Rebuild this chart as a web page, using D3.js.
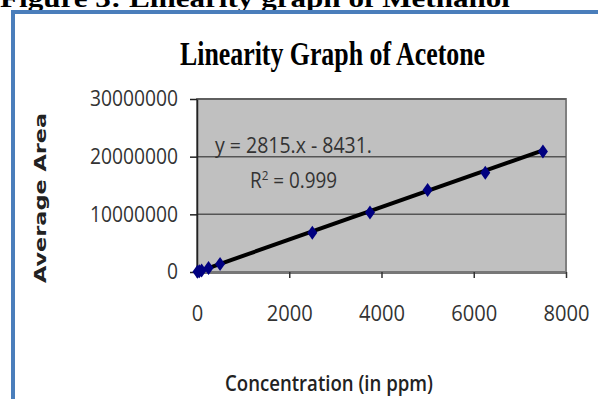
<!DOCTYPE html>
<html>
<head>
<meta charset="utf-8">
<script src="https://cdn.jsdelivr.net/npm/d3@7"></script>
<style>
  html, body { margin: 0; padding: 0; background: #fff; }
  svg { display: block; }
</style>
</head>
<body>
<svg id="chart" width="598" height="399"></svg>
<script>
// data
const concentrations = [10, 50, 100, 250, 500, 2500, 3750, 5000, 6250, 7500];
const avgAreas = [28000, 140000, 280000, 700000, 1400000, 6800000, 10300000, 14200000, 17200000, 20900000];
const xTicks = [0, 2000, 4000, 6000, 8000];
const yTicks = [0, 10000000, 20000000, 30000000];
const slope = 2815;
const intercept = -8431;

const svg = d3.select('#chart');
const m = { left: 197, right: 566, top: 99, bottom: 272 };

const x = d3.scaleLinear().domain([0, 8000]).range([m.left, m.right]);
const y = d3.scaleLinear().domain([0, 30000000]).range([m.bottom, m.top]);

// caption, cut off at the top edge as in the source
svg.append('text')
  .attr('x', 0).attr('y', 7)
  .attr('textLength', 510).attr('lengthAdjust', 'spacingAndGlyphs')
  .style('font-family', 'Liberation Serif').style('font-weight', 'bold').style('font-size', '25px')
  .text('Figure 3: Linearity graph of Methanol');

// blue frame
svg.append('line').attr('x1', 11).attr('x2', 598).attr('y1', 12).attr('y2', 12)
  .attr('stroke', '#4a7ebb').attr('stroke-width', 4);
svg.append('line').attr('x1', 13).attr('x2', 13).attr('y1', 10).attr('y2', 399)
  .attr('stroke', '#4a7ebb').attr('stroke-width', 4);

// title
svg.append('text')
  .attr('x', 180).attr('y', 65)
  .attr('textLength', 305).attr('lengthAdjust', 'spacingAndGlyphs')
  .style('font-family', 'Liberation Serif').style('font-weight', 'bold').style('font-size', '33px')
  .text('Linearity Graph of Acetone');

// plot background
svg.append('rect')
  .attr('x', m.left).attr('y', m.top)
  .attr('width', m.right - m.left).attr('height', m.bottom - m.top)
  .attr('fill', '#c0c0c0').attr('stroke', '#808080').attr('stroke-width', 2);

// gridlines
svg.append('g').selectAll('line')
  .data(yTicks.filter(d => d > 0)).enter()
  .append('line')
  .attr('x1', m.left).attr('x2', m.right)
  .attr('y1', d => y(d)).attr('y2', d => y(d))
  .attr('stroke', '#555').attr('stroke-width', 1.5);

// axes
const yAxis = svg.append('g')
  .attr('transform', `translate(${m.left},0)`)
  .call(d3.axisLeft(y).tickValues(yTicks).tickFormat(d3.format('d')).tickSize(7).tickPadding(12).tickSizeOuter(0));
yAxis.select('.domain').attr('stroke', '#222').attr('stroke-width', 1.5);
yAxis.selectAll('.tick line').attr('stroke', '#222').attr('stroke-width', 1.5);
yAxis.selectAll('text')
  .style('font-family', 'Open Sans').style('font-size', '21px').attr('fill', '#333')
  .attr('textLength', d => String(d).length * 11).attr('lengthAdjust', 'spacingAndGlyphs');

const xAxis = svg.append('g')
  .attr('transform', `translate(0,${m.bottom})`)
  .call(d3.axisBottom(x).tickValues(xTicks).tickFormat(d3.format('d')).tickSize(6).tickPadding(28).tickSizeOuter(0));
xAxis.select('.domain').attr('stroke', '#777').attr('stroke-width', 3);
xAxis.selectAll('.tick line').attr('stroke', '#333').attr('stroke-width', 1.5);
xAxis.selectAll('text')
  .style('font-family', 'Open Sans').style('font-size', '21px').attr('fill', '#333')
  .attr('textLength', d => String(d).length * 11.5).attr('lengthAdjust', 'spacingAndGlyphs');

// trend line
const lineData = [0, d3.max(concentrations)];
svg.append('path')
  .datum(lineData)
  .attr('fill', 'none').attr('stroke', '#000').attr('stroke-width', 4)
  .attr('d', d3.line().x(d => x(d)).y(d => y(slope * d + intercept)));

// points
svg.append('g').selectAll('path')
  .data(concentrations.map((c, i) => [c, avgAreas[i]])).enter()
  .append('path')
  .attr('transform', d => `translate(${x(d[0])},${y(d[1])})`)
  .attr('d', 'M0,-7L5,0L0,7L-5,0Z')
  .attr('fill', '#000080');

// equation
svg.append('text')
  .attr('x', 215).attr('y', 153)
  .attr('textLength', 157).attr('lengthAdjust', 'spacingAndGlyphs')
  .style('font-family', 'Open Sans').style('font-size', '21px').attr('fill', '#333')
  .text('y = 2815.x - 8431.');
const r2 = svg.append('text')
  .attr('x', 250).attr('y', 188)
  .attr('textLength', 87).attr('lengthAdjust', 'spacingAndGlyphs')
  .style('font-family', 'Open Sans').style('font-size', '21px').attr('fill', '#333');
r2.append('tspan').text('R');
r2.append('tspan').attr('dy', -8).style('font-size', '13px').text('2');
r2.append('tspan').attr('dy', 8).text(' = 0.999');

// axis titles
svg.append('text')
  .attr('transform', 'translate(46,198) rotate(-90)')
  .attr('text-anchor', 'middle')
  .attr('textLength', 170).attr('lengthAdjust', 'spacingAndGlyphs')
  .style('font-family', 'DejaVu Sans').style('font-weight', 'bold').style('font-size', '15px').attr('fill', '#222')
  .text('Average Area');

svg.append('text')
  .attr('x', 225).attr('y', 391)
  .attr('textLength', 208).attr('lengthAdjust', 'spacingAndGlyphs')
  .style('font-family', 'Open Sans').style('font-weight', '600').style('font-size', '21px').attr('fill', '#222')
  .text('Concentration (in ppm)');
</script>
</body>
</html>
